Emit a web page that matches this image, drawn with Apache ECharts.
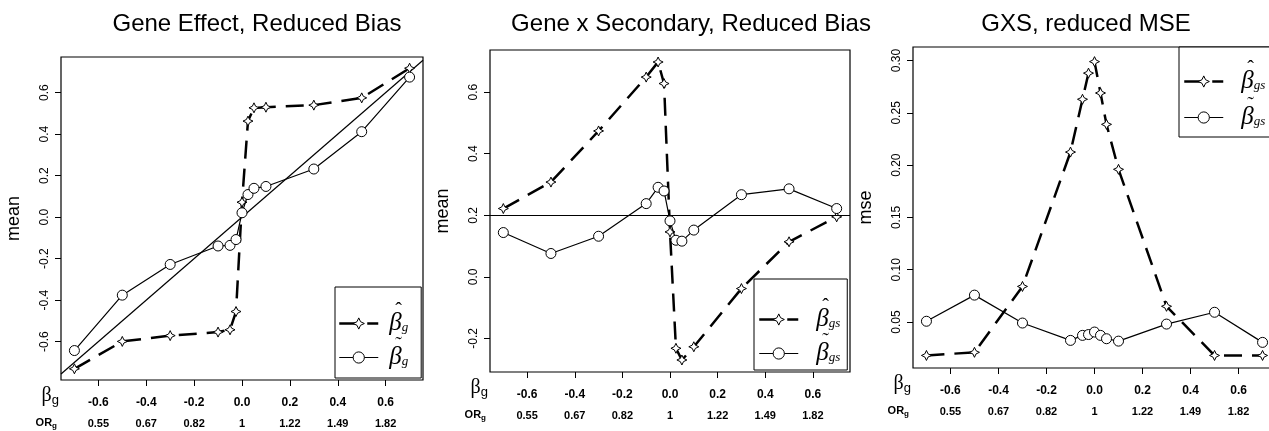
<!DOCTYPE html>
<html>
<head>
<meta charset="utf-8">
<script src="https://cdn.jsdelivr.net/npm/echarts@6/dist/echarts.min.js"></script>
<style>
  html, body { margin: 0; padding: 0; background: #fff; }
  #chart { width: 1269px; height: 431px; }
</style>
</head>
<body>
<div id="chart"></div>
<script>
// true beta_g values used in the simulation
const betaG = [-0.7, -0.5, -0.3, -0.1, -0.05, -0.025, 0, 0.025, 0.05, 0.1, 0.3, 0.5, 0.7];

// panel 1: gene effect, mean of estimates
const geneHat   = [-0.731, -0.599, -0.571, -0.554, -0.543, -0.455, 0.072, 0.463, 0.527, 0.530, 0.540, 0.575, 0.718];
const geneTilde = [-0.643, -0.376, -0.228, -0.139, -0.136, -0.108, 0.021, 0.109, 0.139, 0.148, 0.232, 0.412, 0.675];

// panel 2: gene x secondary, mean of estimates
const gxsHat   = [0.222, 0.308, 0.474, 0.649, 0.698, 0.628, 0.146, -0.232, -0.270, -0.227, -0.038, 0.114, 0.195];
const gxsTilde = [0.144, 0.076, 0.132, 0.238, 0.291, 0.279, 0.182, 0.119, 0.116, 0.152, 0.267, 0.286, 0.222];
const gxsTrue  = 0.2;

// panel 3: gene x secondary, mse
const mseHat   = [0.018, 0.021, 0.084, 0.2125, 0.263, 0.288, 0.299, 0.269, 0.239, 0.196, 0.065, 0.018, 0.018];
const mseTilde = [0.0507, 0.0757, 0.049, 0.0324, 0.0372, 0.038, 0.0404, 0.0372, 0.034, 0.0317, 0.048, 0.0593, 0.0305];

// tick labels
const betaTicks  = [-0.6, -0.4, -0.2, 0, 0.2, 0.4, 0.6];
const betaLabels = ['-0.6', '-0.4', '-0.2', '0.0', '0.2', '0.4', '0.6'];
const orLabels   = ['0.55', '0.67', '0.82', '1', '1.22', '1.49', '1.82'];
const meanTicks1 = [-0.6, -0.4, -0.2, 0, 0.2, 0.4, 0.6];
const meanTicks2 = [-0.2, 0, 0.2, 0.4, 0.6];
const mseTicks   = [0.05, 0.10, 0.15, 0.20, 0.25, 0.30];

const titles = ['Gene Effect, Reduced Bias', 'Gene x Secondary, Reduced Bias', 'GXS, reduced MSE'];

const X_MIN = -0.756, X_MAX = 0.756;
const SANS = '"Liberation Sans", Arial, Helvetica, sans-serif';
const SERIF = '"Liberation Serif", "Times New Roman", serif';
const STAR = 'path://M5,0 L6.6,3.4 L10,5 L6.6,6.6 L5,10 L3.4,6.6 L0,5 L3.4,3.4 Z';
const DASH = [18, 10];

const grids = [
  { left: 61,  top: 57, width: 362, height: 323 },
  { left: 490, top: 50, width: 360, height: 322 },
  { left: 913, top: 47, width: 363, height: 321 },
];
const titleCenters = [252, 686, 1081];

function pairs(ys) {
  return betaG.map((x, i) => [x, ys[i]]);
}

function lookup(ticks, labels) {
  return (v) => {
    const i = ticks.findIndex((t) => Math.abs(t - v) < 1e-6);
    return i < 0 ? '' : labels[i];
  };
}

function xAxesFor(gi) {
  return [
    {
      type: 'value', gridIndex: gi, position: 'bottom', min: X_MIN, max: X_MAX,
      axisLine: { show: false, onZero: false },
      splitLine: { show: false },
      axisTick: { show: true, customValues: betaTicks, length: 6, lineStyle: { color: '#000', width: 1 } },
      axisLabel: {
        customValues: betaTicks, formatter: lookup(betaTicks, betaLabels),
        margin: 17, color: '#000', fontSize: 12, fontWeight: 'bold', fontFamily: SANS,
      },
      name: '{b|β}{s|g}', nameLocation: 'start', nameGap: 2,
      nameTextStyle: {
        padding: [32, 0, 0, 0],
        rich: {
          b: { fontFamily: SERIF, fontSize: 20, color: '#000', lineHeight: 22 },
          s: { fontFamily: SANS, fontSize: 13, color: '#000', lineHeight: 12, verticalAlign: 'bottom' },
        },
      },
    },
    {
      type: 'value', gridIndex: gi, position: 'bottom', min: X_MIN, max: X_MAX,
      axisLine: { show: false, onZero: false },
      splitLine: { show: false },
      axisTick: { show: false },
      axisLabel: {
        customValues: betaTicks, formatter: lookup(betaTicks, orLabels),
        margin: 38, color: '#000', fontSize: 11, fontWeight: 'bold', fontFamily: SANS,
      },
      name: '{o|OR}{s|g}', nameLocation: 'start', nameGap: 4,
      nameTextStyle: {
        padding: [86, 0, 0, 0],
        rich: {
          o: { fontFamily: SANS, fontSize: 11, fontWeight: 'bold', color: '#000', lineHeight: 14 },
          s: { fontFamily: SANS, fontSize: 8, fontWeight: 'bold', color: '#000', lineHeight: 8, verticalAlign: 'bottom' },
        },
      },
    },
  ];
}

function yAxisFor(gi, min, max, ticks, digits, name) {
  return {
    type: 'value', gridIndex: gi, min: min, max: max,
    axisLine: { show: false, onZero: false },
    splitLine: { show: false },
    axisTick: { show: true, customValues: ticks, length: 6, lineStyle: { color: '#000', width: 1 } },
    axisLabel: {
      customValues: ticks, rotate: 90, margin: 10,
      formatter: (v) => v.toFixed(digits),
      color: '#000', fontSize: 12, fontFamily: SANS,
    },
    name: name, nameLocation: 'middle', nameGap: 38,
    nameTextStyle: { color: '#000', fontSize: 18, fontFamily: SANS },
  };
}

function hatSeries(id, gi, ys) {
  return {
    name: id, type: 'line', xAxisIndex: gi * 2, yAxisIndex: gi,
    data: pairs(ys), symbol: STAR, symbolSize: 10,
    itemStyle: { color: '#fff', borderColor: '#000', borderWidth: 1 },
    lineStyle: { color: '#000', width: 2.5, type: DASH },
    emphasis: { disabled: true }, z: 3,
  };
}

function tildeSeries(id, gi, ys, extra) {
  return Object.assign({
    name: id, type: 'line', xAxisIndex: gi * 2, yAxisIndex: gi,
    data: pairs(ys), symbol: 'circle', symbolSize: 10,
    itemStyle: { color: '#fff', borderColor: '#000', borderWidth: 1 },
    lineStyle: { color: '#000', width: 1.2, type: 'solid' },
    emphasis: { disabled: true }, z: 4,
  }, extra || {});
}

// legend label: accent on its own thin line above an italic beta with subscript
function legendFor(hatId, tildeId, sub, box) {
  return Object.assign({
    orient: 'vertical', selectedMode: false,
    itemWidth: 39, itemHeight: 14,
    backgroundColor: '#fff', borderColor: '#000', borderWidth: 1, borderRadius: 0,
    data: [
      { name: hatId, itemStyle: { color: '#fff', borderColor: '#000', borderWidth: 1 },
        lineStyle: { color: '#000', width: 2.5, type: DASH } },
      { name: tildeId, itemStyle: { color: '#fff', borderColor: '#000', borderWidth: 1 },
        lineStyle: { color: '#000', width: 1.2, type: 'solid' } },
    ],
    formatter: (name) => '{h|' + (name === hatId ? '\u02C6' : '\u02DC') + '}\n{b|β}{s|' + sub + '}',
    textStyle: {
      padding: [0, 0, 1, 0],
      rich: {
        h: { fontFamily: SERIF, fontSize: 20, color: '#000', lineHeight: 1, padding: [0, 0, 0, box.textGap + 6] },
        b: { fontFamily: SERIF, fontStyle: 'italic', fontSize: 25, color: '#000', lineHeight: 22, padding: [0, 0, 0, box.textGap] },
        s: { fontFamily: SERIF, fontStyle: 'italic', fontSize: 13, color: '#000', lineHeight: 12, verticalAlign: 'bottom' },
      },
    },
  }, box.pos);
}

const option = {
  backgroundColor: '#fff',
  animation: false,
  title: titles.map((t, i) => ({
    text: t, left: titleCenters[i], top: 7, textAlign: 'center',
    textStyle: { fontFamily: SANS, fontSize: 24, fontWeight: 'normal', color: '#000' },
  })),
  grid: grids.map((g) => Object.assign({
    show: true, borderColor: '#000', borderWidth: 1.2, backgroundColor: 'transparent',
    containLabel: false, outerBoundsMode: 'none',
  }, g)),
  legend: [
    legendFor('g_hat', 'g_tilde', 'g', { textGap: 6, pos: { left: 335, top: 287, padding: [15, 13, 8, 3], itemGap: 0 } }),
    legendFor('gs_hat2', 'gs_tilde2', 'gs', { textGap: 13, pos: { left: 754, top: 279, padding: [19, 7, 4, 4], itemGap: 0 } }),
    legendFor('gs_hat3', 'gs_tilde3', 'gs', { textGap: 13, pos: { left: 1179, top: 47, padding: [13, 7, 7, 4], itemGap: 2 } }),
  ],
  xAxis: [].concat(xAxesFor(0), xAxesFor(1), xAxesFor(2)),
  yAxis: [
    yAxisFor(0, -0.785, 0.772, meanTicks1, 1, 'mean'),
    yAxisFor(1, -0.309, 0.737, meanTicks2, 1, 'mean'),
    yAxisFor(2, 0.006, 0.313, mseTicks, 2, 'mse'),
  ],
  series: [
    // reference line y = x across panel 1
    {
      name: 'identity', type: 'line', xAxisIndex: 0, yAxisIndex: 0,
      data: [[X_MIN, X_MIN], [X_MAX, X_MAX]], symbol: 'none', silent: true,
      lineStyle: { color: '#000', width: 1.2 }, emphasis: { disabled: true }, z: 2,
    },
    hatSeries('g_hat', 0, geneHat),
    tildeSeries('g_tilde', 0, geneTilde),
    hatSeries('gs_hat2', 1, gxsHat),
    tildeSeries('gs_tilde2', 1, gxsTilde, {
      markLine: {
        silent: true, symbol: 'none', label: { show: false },
        lineStyle: { color: '#000', width: 1.2, type: 'solid' },
        data: [{ yAxis: gxsTrue }],
      },
    }),
    hatSeries('gs_hat3', 2, mseHat),
    tildeSeries('gs_tilde3', 2, mseTilde),
  ],
};

const chart = echarts.init(document.getElementById('chart'), null, { renderer: 'canvas' });
chart.setOption(option);
</script>
</body>
</html>
